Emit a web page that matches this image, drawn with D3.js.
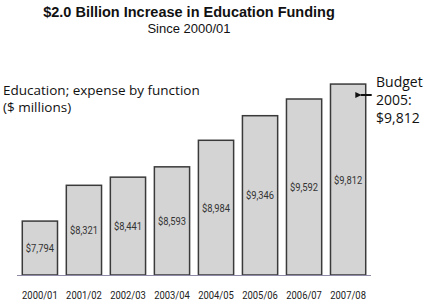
<!DOCTYPE html>
<html><head><meta charset="utf-8">
<script src="https://cdn.jsdelivr.net/npm/d3@7"></script>
<style>body{margin:0;background:#fff}</style>
</head><body>
<svg id="c" width="426" height="304"></svg>
<script>
const categories = ["2000/01","2001/02","2002/03","2003/04","2004/05","2005/06","2006/07","2007/08"];
const values = [7794, 8321, 8441, 8593, 8984, 9346, 9592, 9812];
const valueLabels = ["$7,794","$8,321","$8,441","$8,593","$8,984","$9,346","$9,592","$9,812"];
const titleText = "$2.0 Billion Increase in Education Funding";
const subtitleText = "Since 2000/01";
const axisNote = ["Education; expense by function", "($ millions)"];
const budgetNote = ["Budget", "2005:", "$9,812"];

const svg = d3.select("#c");
const x = d3.scaleBand().domain(categories).range([17, 371]).paddingInner(0.2).paddingOuter(0.12);
const y = d3.scaleLinear().domain([7000, 10000]).range([275, 71.3]);
const condensed = "Roboto, Liberation Sans, sans-serif";

svg.append("text").attr("x", 189).attr("y", 17).attr("text-anchor","middle")
  .attr("font-family","Liberation Sans, Arial, sans-serif").attr("font-weight","bold").attr("font-size",14.5)
  .attr("fill","#111").text(titleText);
svg.append("text").attr("x", 189).attr("y", 33).attr("text-anchor","middle")
  .attr("font-family","Liberation Sans, Arial, sans-serif").attr("font-size",13)
  .attr("fill","#111").text(subtitleText);

const note = svg.append("text").attr("font-family","Open Sans, sans-serif").attr("font-size",13.5).attr("fill","#111");
axisNote.forEach((t,i)=> note.append("tspan").attr("x",3).attr("y",95 + i*17).text(t));

svg.append("g").selectAll("rect").data(values).join("rect")
  .attr("x",(d,i)=>x(categories[i])).attr("y",d=>y(d))
  .attr("width",x.bandwidth()).attr("height",d=>y(7000)-y(d))
  .attr("fill","#d4d4d4").attr("stroke","#3a3a3a").attr("stroke-width",1.5);

svg.append("line").attr("x1",17).attr("x2",371).attr("y1",y(7000)+0.5).attr("y2",y(7000)+0.5)
  .attr("stroke","#8d8aa8").attr("stroke-width",1);

svg.append("g").selectAll("text").data(values).join("text")
  .attr("transform",(d,i)=>`translate(${x(categories[i])+x.bandwidth()/2},${(y(d)+y(7000))/2 + 4}) scale(0.85,1)`)
  .attr("text-anchor","middle").attr("font-family",condensed)
  .attr("font-size",11).attr("fill","#333").text((d,i)=>valueLabels[i]);

const xAxis = d3.axisBottom(x).tickSize(0).tickPadding(0);
const gx = svg.append("g").attr("transform",`translate(0,${y(7000)+20})`).call(xAxis);
gx.select(".domain").remove();
gx.selectAll("text").attr("font-family",condensed)
  .attr("font-size",11.5).attr("fill","#222").attr("dy","0.35em").attr("transform","scale(0.82,1)")
  .attr("x", function(){ const t = d3.select(this.parentNode).attr("transform"); const tx = +t.match(/translate\(([-\d.]+)/)[1]; return 0; });
// keep ticks centered under bars: scale about tick origin (tick group already translated)

const last = categories.length-1;
const bn = svg.append("text").attr("font-family","Open Sans, sans-serif").attr("font-size",14).attr("fill","#111");
budgetNote.forEach((t,i)=> bn.append("tspan").attr("x",376).attr("y",87 + i*18).text(t));

svg.append("defs").append("marker").attr("id","ah").attr("viewBox","0 0 10 10").attr("refX",1).attr("refY",5)
  .attr("markerWidth",3).attr("markerHeight",3).attr("orient","auto-start-reverse")
  .append("path").attr("d","M10,0 L0,5 L10,10 Z").attr("fill","#111");
const ax = x(categories[last]) + x.bandwidth();
svg.append("line").attr("x1",ax+6).attr("x2",ax-5).attr("y1",95).attr("y2",95)
  .attr("stroke","#111").attr("stroke-width",2).attr("marker-end","url(#ah)");
</script>
</body></html>
